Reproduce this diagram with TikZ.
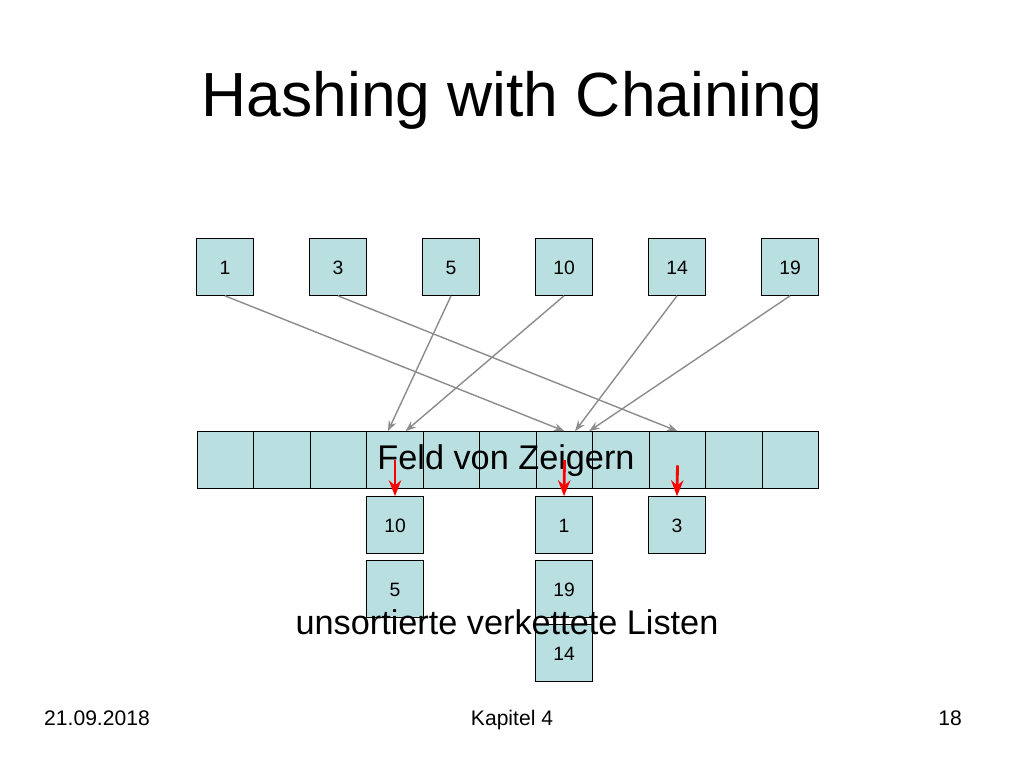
\documentclass[tikz,border=0pt]{standalone}
\usepackage{fontspec}
\setmainfont{Liberation Sans}
\usetikzlibrary{arrows.meta}
\definecolor{cellfill}{RGB}{185,223,224}
\definecolor{ptrgray}{RGB}{140,140,140}
\tikzset{
	cell/.style={draw, fill=cellfill, minimum width=1.13cm, minimum height=1.14cm, inner sep=0pt, text height=1.6ex, text depth=0pt, font=\fontsize{11}{13}\selectfont},
	ptr/.style={ptrgray, thick, -{Stealth[length=6pt]}},
	chain/.style={red, line width=1.6pt, -{Stealth[length=9pt, width=7pt]}},
	footer/.style={anchor=base, font=\fontsize{12}{14}\selectfont}
}
\begin{document}
\begin{tikzpicture}[x=0.02cm, y=-0.02cm]
		\useasboundingbox (0,0) rectangle (1024,768);
		\node at (512,100) {\fontsize{35.5}{40}\selectfont Hashing with Chaining};
		% keys
		\foreach \k/\x in {1/225, 3/338, 5/451, 10/564, 14/677, 19/790}
			\node[cell] (k\k) at (\x,267) {\k};
		% table
		\foreach \i in {0,...,10}
			\node[cell] (t\i) at (225.5+\i*56.5,460) {};
		% lists
		\node[cell] (l10) at (395,525) {10};
		\node[cell] (l5) at (395,589) {5};
		\node[cell] (l1) at (564,525) {1};
		\node[cell] (l19) at (564,589) {19};
		\node[cell] (l14) at (564,653) {14};
		\node[cell] (l3) at (677,525) {3};
		% pointers
		\draw[ptr] (k1.south) -- (t6.north);
		\draw[ptr] (k3.south) -- (t8.north);
		\draw[ptr] (k5.south) -- ([xshift=-4]t3.north);
		\draw[ptr] (k10.south) -- ([xshift=6]t3.north);
		\draw[ptr] (k14.south) -- ([xshift=6]t6.north);
		\draw[ptr] (k19.south) -- ([xshift=14]t6.north);
		\node (feld) at (506,461) {\fontsize{19.5}{22}\selectfont Feld von Zeigern};
		\node (listen) at (507,622) {\fontsize{19.5}{22}\selectfont unsortierte verkettete Listen};
		\draw[chain] (t3.center) -- (l10.north);
		\draw[chain] (t6.center) -- (l1.north);
		\draw[chain] ([yshift=-3]t8.center) -- (l3.north);
		% footer
		\node[footer] (date) at (97,725) {21.09.2018};
		\node[footer] (chap) at (512,725) {Kapitel 4};
		\node[footer] (page) at (950,725) {18};
	\end{tikzpicture}
\end{document}
